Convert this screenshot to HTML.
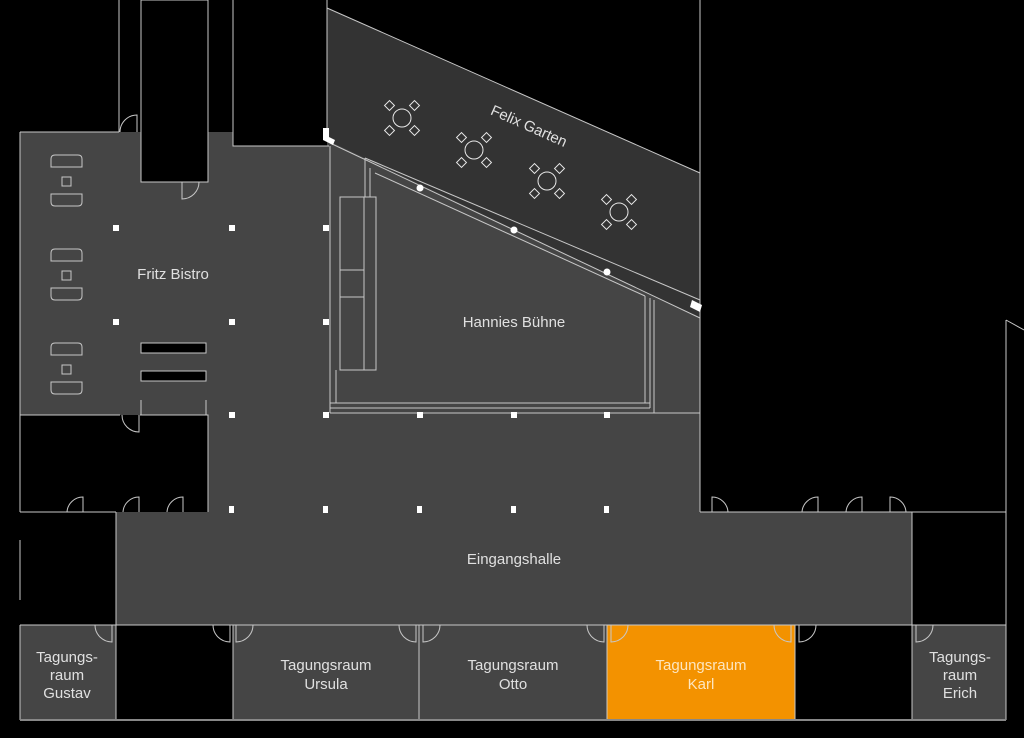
<!DOCTYPE html>
<html><head><style>html,body{margin:0;padding:0;background:#000;}svg{display:block}
text{font-family:"Liberation Sans",sans-serif;font-size:15px;fill:#e0e0e0;text-anchor:middle}</style></head>
<body>
<svg width="1024" height="738" viewBox="0 0 1024 738" xmlns="http://www.w3.org/2000/svg">
<defs>
<g id="gt"><circle cx="0" cy="0" r="9"/><rect x="-16" y="-16" width="7" height="7" transform="rotate(45 -12.5 -12.5)"/><rect x="9" y="-16" width="7" height="7" transform="rotate(45 12.5 -12.5)"/><rect x="-16" y="9" width="7" height="7" transform="rotate(45 -12.5 12.5)"/><rect x="9" y="9" width="7" height="7" transform="rotate(45 12.5 12.5)"/></g>
<g id="tb"><path d="M55,155 H78 Q82,155 82,159 V167 H51 V159 Q51,155 55,155 Z"/><rect x="62" y="177" width="9" height="9"/><path d="M51,194 H82 V202 Q82,206 78,206 H55 Q51,206 51,202 Z"/></g>
</defs>
<rect width="1024" height="738" fill="#000"/>
<g fill="#454545">
<polygon points="20,132 141,132 141,182 208,182 208,132 233,132 233,146 329,146 329,415 20,415"/>
<polygon points="208,146 327,146 327,140 700,312 700,512 208,512"/>
<rect x="116" y="512" width="796" height="113"/>
<rect x="20" y="625" width="96" height="95"/>
<rect x="233" y="625" width="186" height="95"/>
<rect x="419" y="625" width="188" height="95"/>
<rect x="912" y="625" width="94" height="95"/>
</g>
<rect x="607" y="625" width="188" height="95" fill="#f39200"/>
<polygon points="327,8 700,173 700,318 327,140" fill="#333"/>
<g stroke="#c8c8c8" stroke-width="1" fill="none">
<line x1="327" y1="8" x2="700" y2="173"/>
<line x1="327" y1="0" x2="327" y2="140"/>
<line x1="700" y1="0" x2="700" y2="512"/>
<line x1="330" y1="143" x2="700" y2="318"/>
<line x1="365" y1="158" x2="700" y2="300"/>
<line x1="375" y1="173" x2="645" y2="296"/>
<line x1="365" y1="158" x2="365" y2="197"/>
<line x1="370" y1="168" x2="370" y2="197"/>
<line x1="645" y1="296" x2="645" y2="403"/>
<line x1="650" y1="298" x2="650" y2="408"/>
<line x1="654" y1="300" x2="654" y2="413"/>
<line x1="330" y1="403" x2="650" y2="403"/>
<line x1="330" y1="408" x2="650" y2="408"/>
<line x1="330" y1="413" x2="700" y2="413"/>
<line x1="330" y1="146" x2="330" y2="413"/>
<line x1="336" y1="370" x2="336" y2="403"/>
<rect x="340" y="197" width="24" height="173"/>
<rect x="364" y="197" width="12" height="173"/>
<line x1="340" y1="270" x2="364" y2="270"/>
<line x1="340" y1="297" x2="364" y2="297"/>
<polyline points="20,132 119,132"/>
<line x1="119" y1="0" x2="119" y2="132"/>
<rect x="141" y="0" width="67" height="182"/>
<polyline points="233,0 233,146 329,146"/>
<line x1="20" y1="132" x2="20" y2="415"/>
<polyline points="20,415 120,415"/>
<polyline points="140,415 208,415 208,512"/>
<line x1="141" y1="400" x2="141" y2="415"/>
<line x1="206" y1="400" x2="206" y2="415"/>
<line x1="20" y1="415" x2="20" y2="512"/>
<line x1="20" y1="512" x2="116" y2="512"/>
<line x1="20" y1="540" x2="20" y2="600"/>
<line x1="116" y1="512" x2="116" y2="720"/>
<line x1="912" y1="512" x2="912" y2="720"/>
<line x1="700" y1="512" x2="1006" y2="512"/>
<line x1="1006" y1="320" x2="1006" y2="625"/>
<line x1="1006" y1="320" x2="1024" y2="330"/>
<line x1="20" y1="625" x2="1006" y2="625"/>
<line x1="233" y1="625" x2="233" y2="720"/>
<line x1="419" y1="625" x2="419" y2="720"/>
<line x1="607" y1="625" x2="607" y2="720"/>
<line x1="795" y1="625" x2="795" y2="720"/>
<line x1="20" y1="625" x2="20" y2="720"/>
<line x1="1006" y1="625" x2="1006" y2="720"/>
<use href="#tb"/><use href="#tb" y="94"/><use href="#tb" y="188"/>
<rect x="141" y="343" width="65" height="10" fill="#000"/>
<rect x="141" y="371" width="65" height="10" fill="#000"/>
<path d="M120,132 A17,17 0 0 1 137,115 L137,132"/>
<path d="M182,182 L182,199 A17,17 0 0 0 199,182"/>
<path d="M122,415 A17,17 0 0 0 139,432 L139,415"/>
<path d="M67,512 A16,16 0 0 1 83,497 L83,512"/>
<path d="M123,512 A16,16 0 0 1 139,497 L139,512"/>
<path d="M167,512 A16,16 0 0 1 183,497 L183,512"/>
<path d="M712,512 L712,497 A16,16 0 0 1 728,512"/>
<path d="M802,512 A16,16 0 0 1 818,497 L818,512"/>
<path d="M846,512 A16,16 0 0 1 862,497 L862,512"/>
<path d="M890,512 L890,497 A16,16 0 0 1 906,512"/>
<path d="M95,625 A17,17 0 0 0 112,642 L112,625"/>
<path d="M213,625 A17,17 0 0 0 230,642 L230,625"/>
<path d="M236,625 L236,642 A17,17 0 0 0 253,625"/>
<path d="M399,625 A17,17 0 0 0 416,642 L416,625"/>
<path d="M423,625 L423,642 A17,17 0 0 0 440,625"/>
<path d="M587,625 A17,17 0 0 0 604,642 L604,625"/>
<path d="M611,625 L611,642 A17,17 0 0 0 628,625"/>
<path d="M774,625 A17,17 0 0 0 791,642 L791,625"/>
<path d="M799,625 L799,642 A17,17 0 0 0 816,625"/>
<path d="M916,625 L916,642 A17,17 0 0 0 933,625"/>
</g>
<g fill="none" stroke="#e8e8e8">
<use href="#gt" x="402" y="118"/><use href="#gt" x="474" y="150"/><use href="#gt" x="547" y="181"/><use href="#gt" x="619" y="212"/>
</g>
<line x1="20" y1="720" x2="1006" y2="720" stroke="#888" stroke-width="2"/>
<g fill="#fff">
<rect x="113" y="225" width="6" height="6"/><rect x="229" y="225" width="6" height="6"/><rect x="323" y="225" width="6" height="6"/>
<rect x="113" y="319" width="6" height="6"/><rect x="229" y="319" width="6" height="6"/><rect x="323" y="319" width="6" height="6"/>
<rect x="229" y="412" width="6" height="6"/><rect x="323" y="412" width="6" height="6"/><rect x="417" y="412" width="6" height="6"/><rect x="511" y="412" width="6" height="6"/><rect x="604" y="412" width="6" height="6"/>
<rect x="229" y="506" width="5" height="7"/><rect x="323" y="506" width="5" height="7"/><rect x="417" y="506" width="5" height="7"/><rect x="511" y="506" width="5" height="7"/><rect x="604" y="506" width="5" height="7"/>
<circle cx="420" cy="188" r="3.5"/><circle cx="514" cy="230" r="3.5"/><circle cx="607" cy="272" r="3.5"/>
<polygon points="323,128 329,128 329,137 335,140 333,145 323,140"/>
<polygon points="692,300 702,305 700,312 690,307"/>
</g>
<text x="173" y="279">Fritz Bistro</text>
<text x="514" y="327">Hannies Bühne</text>
<text x="529" y="131" transform="rotate(24 529 126)">Felix Garten</text>
<text x="514" y="564">Eingangshalle</text>
<text x="67" y="662">Tagungs-</text><text x="67" y="680">raum</text><text x="67" y="698">Gustav</text>
<text x="326" y="670">Tagungsraum</text><text x="326" y="689">Ursula</text>
<text x="513" y="670">Tagungsraum</text><text x="513" y="689">Otto</text>
<text x="701" y="670" style="fill:#fde6c0">Tagungsraum</text><text x="701" y="689" style="fill:#fde6c0">Karl</text>
<text x="960" y="662">Tagungs-</text><text x="960" y="680">raum</text><text x="960" y="698">Erich</text>
</svg>
</body></html>
